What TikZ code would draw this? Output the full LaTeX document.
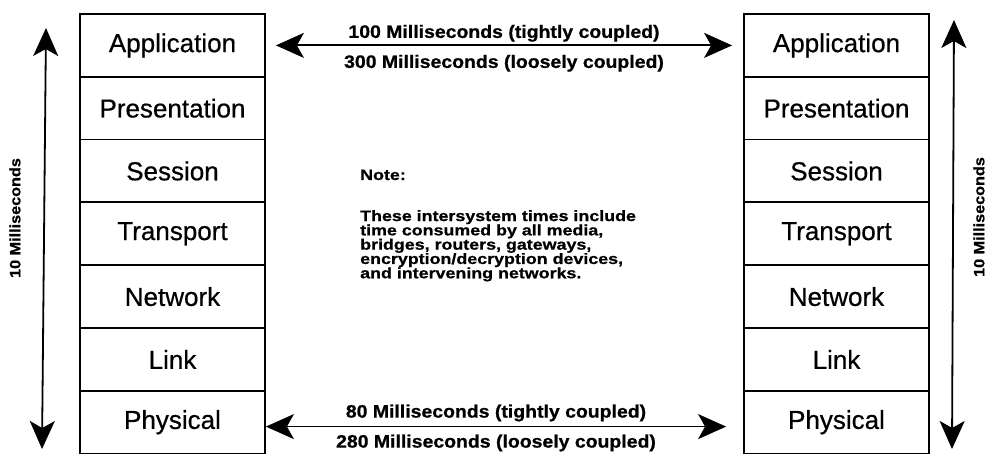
\documentclass[tikz,border=0pt]{standalone}
\usepackage{fontspec}
\setmainfont{Liberation Sans}
\newfontfamily\layerfont[FakeBold=0.6]{Liberation Sans}
\newfontfamily\widefont[FakeStretch=1.08, FakeBold=0.8]{Liberation Sans Bold}
\newfontfamily\notefont[FakeStretch=1.19, FakeBold=0.8]{Liberation Sans Bold}
\usetikzlibrary{arrows.meta}
\newcommand\tightlines{\lineskiplimit=-20pt\relax}

\tikzset{
  layer/.style={draw, line width=1.8pt, minimum width=185pt, minimum height=62.8pt,
                inner sep=0pt, font=\layerfont\fontsize{26}{30}\selectfont},
  bigtip/.tip={Stealth[length=28pt, width=25pt, inset=7pt]},
  span/.style={line width=1.8pt, bigtip-bigtip},
  timelabel/.style={font=\widefont\fontsize{18}{20}\selectfont, inner sep=0pt, anchor=base},
  sidelabel/.style={font=\widefont\fontsize{15}{18}\selectfont, rotate=90, inner sep=0pt},
  notetext/.style={font=\notefont\fontsize{15}{14.3}\selectfont\tightlines,
                   align=left, inner sep=0pt}
}

\begin{document}
\begin{tikzpicture}[x=1pt, y=-1pt]
\useasboundingbox (0,0) rectangle (989,454);

% two protocol stacks
\foreach \n [count=\i] in {Application,Presentation,Session,Transport,Network,Link,Physical} {
  \node[layer] (L\i) at (172.5, {14+62.8*(\i-0.5)}) {\n};
  \node[layer] (R\i) at (836.5, {14+62.8*(\i-0.5)}) {\n};
}

% intersystem times
\draw[span] ([xshift=10pt]L1.east) -- ([xshift=-11pt]R1.west)
  node[midway, timelabel, yshift=7.5pt] (ta) {100 Milliseconds (tightly coupled)}
  node[midway, timelabel, yshift=-22.5pt] (tb) {300 Milliseconds (loosely coupled)};
\draw[span] ([yshift=-4.4pt]L7.east) -- ([xshift=-17pt,yshift=-4.4pt]R7.west)
  node[midway, timelabel, yshift=9pt] (ba) {80 Milliseconds (tightly coupled)}
  node[midway, timelabel, yshift=-21pt] (bb) {280 Milliseconds (loosely coupled)};

% intrasystem times
\coordinate (lt) at (46,28);
\coordinate (lb) at (42,449);
\coordinate (rt) at (954,20);
\coordinate (rb) at (952,449);
\draw[span] (lb) -- (lt);
\draw[span] (rb) -- (rt);
\node[sidelabel] (ls) at (15,218) {10 Milliseconds};
\node[sidelabel] (rs) at (979,217) {10 Milliseconds};

% note
\node[notetext, anchor=base west] (note) at (360,180) {Note:};
\node[notetext, anchor=north west] (notebody) at (360,210) {These intersystem times include\\
time consumed by all media,\\
bridges, routers, gateways,\\
encryption/decryption devices,\\
and intervening networks.};
\end{tikzpicture}
\end{document}
